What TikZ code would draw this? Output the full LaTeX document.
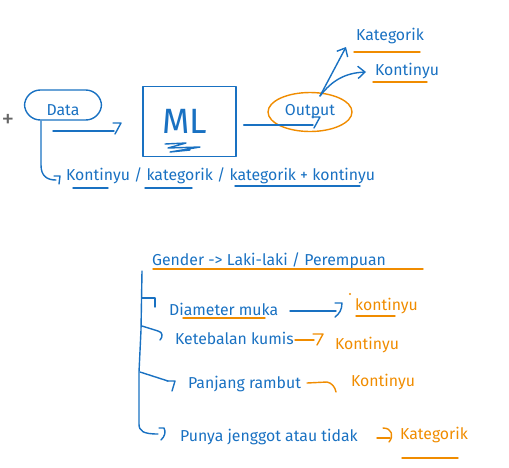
\documentclass[tikz,border=0pt]{standalone}
\usepackage{fontspec}
\setmainfont{Fira Sans}
\usetikzlibrary{arrows.meta,shapes.geometric}
\definecolor{inkblue}{RGB}{25,113,194}
\definecolor{inkorange}{RGB}{240,140,0}
\tikzset{
  note/.style={text=inkblue, font=\fontsize{9}{11}\selectfont, inner sep=1pt, anchor=west},
  tag/.style={note, text=inkorange},
  pen/.style={draw=inkblue, line width=0.8pt, line cap=round, line join=round},
  hl/.style={draw=inkorange, line width=0.8pt, line cap=round, line join=round},
}
% small "7" shaped arrow end
\newcommand{\sevenhook}[2][pen]{\draw[#1] (#2) ++(-1,-8) -- ++(8,0) -- ++(-6,11);}

\begin{document}
\begin{tikzpicture}[x=0.02cm, y=-0.02cm]
    \useasboundingbox (0,0) rectangle (509,467);
    \node[text=gray!80!black, font=\Large, inner sep=0pt] (plus) at (8,121) {+};

    % Data -> ML -> Output
    \node[pen, rounded corners=9pt, note, anchor=center, minimum width=1.54cm, minimum height=0.6cm, text height=12pt, text depth=0pt] (data) at (63,105) {Data};
    \coordinate (dtail) at (53,131);
    \coordinate (dhead) at (114,131);
    \draw[pen] (dtail) -- (dhead);
    \sevenhook{dhead}

    \node[pen, text=inkblue, font=\fontsize{20}{20}\selectfont, minimum width=1.86cm, minimum height=1.4cm, inner sep=0pt] (ml) at (189.5,121.5) {};
    \node[text=inkblue, font=\fontsize{20}{20}\selectfont, inner sep=0pt] (mltext) at (185,121) {ML};
    \draw[pen] (165,144) -- (186,143) -- (168,148) -- (200,147) -- (170,152) -- (190,150);

    \node[draw=inkorange, line width=0.8pt, ellipse, note, anchor=center, minimum width=1.68cm, minimum height=0.78cm] (out) at (310,112) {Output};
    \coordinate (mlhead) at (313,125);
    \draw[pen] (ml.east |- mlhead) ++(7,0) -- (mlhead);
    \sevenhook{mlhead}

    % kinds of output
    \coordinate (ofork) at (320,96);
    \coordinate (okathead) at (346,47);
    \coordinate (okonhead) at (366,72);
    \draw[pen, -{Straight Barb[length=4pt,width=7pt]}] (ofork) -- (okathead);
    \draw[pen, -{Straight Barb[length=4pt,width=7pt]}] (ofork) to[bend left=25] (okonhead);
    \node[note] (okat) at (354,36) {Kategorik};
    \draw[hl] (354,52) -- (420,52);
    \node[note] (okon) at (373,71) {Kontinyu};
    \draw[hl] (373,82) -- (427,82);

    % kinds of data
    \node[note] (dtype) at (64,176) {Kontinyu / kategorik / kategorik + kontinyu};
    \draw[pen] (73,188) -- (108,188);
    \draw[pen] (145,188) -- (192,188);
    \draw[pen] (235,186) -- (360,186);
    \coordinate (dstem) at (41,121);
    \draw[pen] (dstem) -- (41,165) .. controls (41,176) and (47,180) .. (56,180);
    \draw[pen] (54,176) -- (60,176) -- (59,184);

    % Gender example
    \node[note] (gender) at (150,261) {Gender -> Laki-laki / Perempuan};
    \draw[hl] (153,269) -- (423,269);
    \draw[pen] (142,271) -- (141,330) -- (139,372) -- (139,424) .. controls (139,431) and (143,434) .. (158,434);
    \draw[pen] (159,428) -- (164,428) .. controls (166,432) and (165,436) .. (161,440);
    \draw[pen] (142,298) -- (155,298) -- (155,307);
    \draw[pen] (142,326) -- (158,331) .. controls (163,332) and (163,337) .. (160,340);
    \draw[pen] (140,372) -- (168,381);
    \draw[pen] (167,381) -- (175,381) -- (172,391);

    \node[note] (diam) at (167,309) {Diameter muka};
    \draw[hl] (183,318) -- (265,318);
    \coordinate (diamhead) at (336,311);
    \draw[pen] (290,311) -- (diamhead);
    \draw[pen] (335,303) -- (342,303) .. controls (342,310) and (339,314) .. (335,317);
    \node[tag] (kdiam) at (353,306) {kontinyu};
    \fill[inkorange] (350,294) circle (0.6pt);
    \draw[hl] (356,316) -- (395,316);

    \node[note] (kumis) at (173,338) {Ketebalan kumis};
    \coordinate (kumishead) at (314,340);
    \draw[hl] (295,340) -- (kumishead);
    \draw[hl] (313,334) -- (323,334) -- (317,345);
    \node[tag] (kkumis) at (333,345) {Kontinyu};

    \node[note] (rambut) at (186,384) {Panjang rambut};
    \draw[hl] (307,383) -- (327,382) .. controls (332,383) and (335,387) .. (336,392);
    \node[tag] (krambut) at (349,382) {Kontinyu};

    \node[note] (jenggot) at (178,437) {Punya jenggot atau tidak};
    \draw[hl] (377,438) -- (390,438);
    \draw[hl] (383,428) .. controls (392,428) and (394,436) .. (389,442);
    \node[tag] (kjenggot) at (398,435) {Kategorik};
    \draw[hl] (402,458) -- (458,458);
\end{tikzpicture}
\end{document}
